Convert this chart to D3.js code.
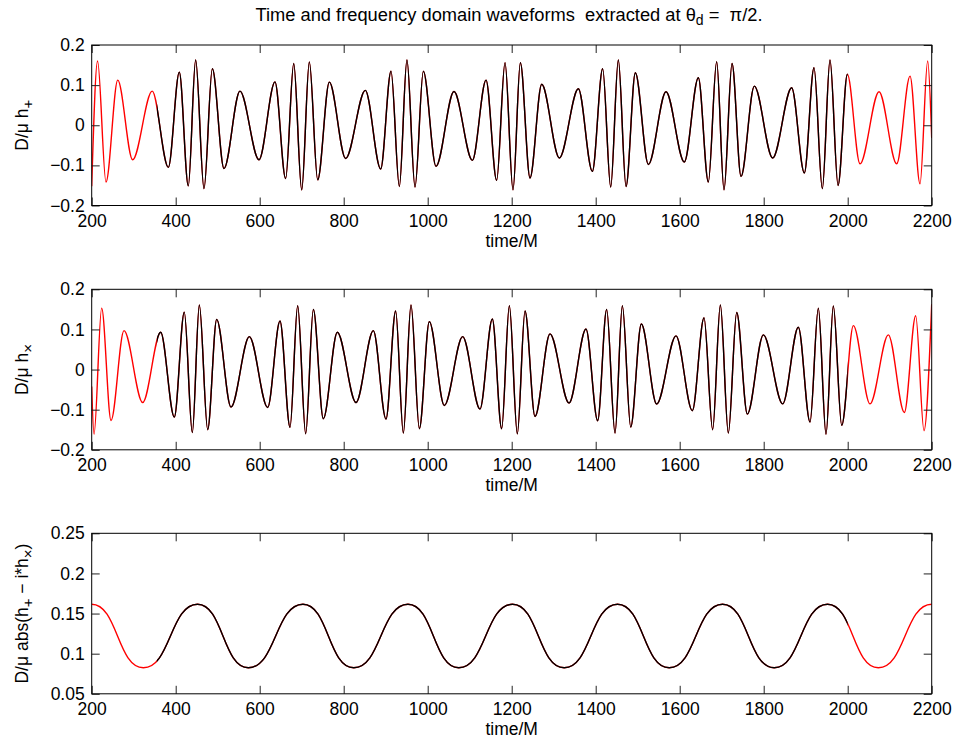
<!DOCTYPE html>
<html>
<head>
<meta charset="utf-8">
<script src="https://cdn.jsdelivr.net/npm/d3@7"></script>
<style>
  body { margin: 0; background: #fff; }
  svg text { font-family: "Liberation Sans", Arial, sans-serif; fill: #000; }
</style>
</head>
<body>
<script>
// x axis shared by the three panels
var xTicks = [200, 400, 600, 800, 1000, 1200, 1400, 1600, 1800, 2000, 2200];
var blackRange = [355, 2000];   // part of the run drawn in black over the red one

// h_plus: extrema
var plusTime = [200, 214, 234, 262, 297.5, 344, 382.5, 408.6, 430, 447.5, 467.4, 487.2, 515, 553, 598.3,
  636.4, 661.8, 681, 700, 718.2, 738, 765.8, 804.7, 851.5, 888, 912.7, 932.5, 950.6, 969.8, 989.6,
  1019.8, 1062.6, 1106.3, 1138.9, 1164.2, 1184.1, 1203.1, 1220.6, 1243.6, 1271.4, 1313.5, 1358.7,
  1392, 1416.6, 1435.7, 1453.9, 1472.2, 1494.4, 1525.4, 1567.4, 1611, 1644.4, 1668.2, 1688, 1705.5,
  1724.6, 1746, 1777.7, 1821.4, 1866.6, 1896.8, 1919.8, 1939.6, 1957.9, 1977, 1999.2, 2029.3,
  2074.6, 2116.7, 2148.4, 2172.2, 2190.4, 2200];
var plusValue = [-0.152, 0.16, -0.1415, 0.1125, -0.086, 0.085, -0.105, 0.1325, -0.151, 0.1625, -0.158,
  0.141, -0.108, 0.085, -0.086, 0.108, -0.133, 0.154, -0.161, 0.158, -0.136, 0.1075, -0.083, 0.087,
  -0.109, 0.135, -0.1525, 0.1625, -0.154, 0.135, -0.1025, 0.084, -0.0875, 0.1125, -0.1375, 0.156,
  -0.161, 0.156, -0.1315, 0.102, -0.0815, 0.091, -0.115, 0.141, -0.154, 0.1625, -0.1525, 0.131,
  -0.098, 0.0835, -0.0915, 0.1185, -0.1415, 0.1585, -0.161, 0.154, -0.1275, 0.0975, -0.0815, 0.0935,
  -0.119, 0.1435, -0.158, 0.1625, -0.15, 0.127, -0.096, 0.0835, -0.096, 0.1225, -0.146, 0.16, -0.0315];

// h_cross
var crossTime = [200, 205.5, 223.7, 246, 276.9, 321.4, 364.2, 396.7, 420.5, 439.6, 456.3, 476.1, 497.6,
  531.7, 575.3, 619, 648.3, 672.2, 690.4, 709.5, 727.7, 751.5, 784.8, 829.3, 870.6, 900.7, 923.7, 942,
  960.3, 980.1, 1003.9, 1039.6, 1083.3, 1124.5, 1153.9, 1176.1, 1194.4, 1213.4, 1231.7, 1255.5,
  1291.2, 1336.5, 1376.9, 1404.7, 1426.1, 1446, 1463.5, 1483.3, 1508.7, 1545.2, 1591.2, 1630.1,
  1657.9, 1678.5, 1696.8, 1715.8, 1735.7, 1761.1, 1799.2, 1845.2, 1882.5, 1910.3, 1930.1, 1948.4,
  1965.8, 1985.7, 2013.5, 2053.1, 2096.8, 2134.9, 2161.9, 2181.7, 2200];
var crossValue = [-0.042, -0.161, 0.153, -0.127, 0.097, -0.082, 0.093, -0.1185, 0.143, -0.157, 0.161,
  -0.15, 0.125, -0.0935, 0.082, -0.0945, 0.121, -0.144, 0.159, -0.16, 0.15, -0.1225, 0.093, -0.082,
  0.097, -0.1235, 0.146, -0.158, 0.161, -0.1475, 0.1195, -0.0895, 0.082, -0.0985, 0.126, -0.1475,
  0.159, -0.16, 0.146, -0.117, 0.089, -0.0835, 0.101, -0.1275, 0.15, -0.158, 0.159, -0.143, 0.1135,
  -0.086, 0.084, -0.1025, 0.129, -0.15, 0.161, -0.158, 0.142, -0.111, 0.0865, -0.0855, 0.1055,
  -0.131, 0.153, -0.161, 0.1585, -0.139, 0.1095, -0.0855, 0.0865, -0.107, 0.134, -0.1525, 0.163];

// abs(h_plus - i*h_cross): peaks and troughs
var absTime = [200, 323, 452, 573, 703, 824, 953, 1074, 1202, 1325, 1452, 1575, 1702, 1825, 1952,
  2073, 2200];
var absValue = [0.1616, 0.0825, 0.1616, 0.0825, 0.1616, 0.0825, 0.1616, 0.0825, 0.1616, 0.0825,
  0.1616, 0.0825, 0.1616, 0.0825, 0.1616, 0.0825, 0.1616];

var waveTicks = [-0.2, -0.1, 0, 0.1, 0.2];
var absTicks = [0.05, 0.1, 0.15, 0.2, 0.25];

var W = 956, H = 741;
var left = 91.7, plotW = 840, plotH = 160.5;

var svg = d3.select("body").append("svg")
    .attr("width", W)
    .attr("height", H);

var x = d3.scaleLinear().domain([200, 2200]).range([0, plotW]);

svg.append("text")
    .attr("x", 509)
    .attr("y", 21)
    .attr("text-anchor", "middle")
    .style("font-size", "18.3px")
    .style("white-space", "pre")
    .call(function(t) {
      t.append("tspan").text("Time and frequency domain waveforms  extracted at ");
      t.append("tspan").text("θ");
      t.append("tspan").attr("dy", 4).style("font-size", "14px").text("d");
      t.append("tspan").attr("dy", -4).text(" =  π/2.");
    });

var panels = [
  {top: 45,    times: plusTime,  values: plusValue,  dom: [-0.2, 0.2],  ticks: waveTicks,
   curve: d3.curveMonotoneX, label: [["D/μ h", 0], ["+", 1]]},
  {top: 289.3, times: crossTime, values: crossValue, dom: [-0.2, 0.2],  ticks: waveTicks,
   curve: d3.curveMonotoneX, label: [["D/μ h", 0], ["×", 1]]},
  // every point here is a turning point, so flat tangents at each one
  {top: 533.3, times: absTime,   values: absValue,   dom: [0.05, 0.25], ticks: absTicks,
   curve: d3.curveBumpX, label: [["D/μ abs(h", 0], ["+", 1], [" − i*h", 0], ["×", 1], [")", 0]]}
];

panels.forEach(function(p, k) {
  var y = d3.scaleLinear().domain(p.dom).range([plotH, 0]);
  var pts = p.times.map(function(t, i) { return [t, p.values[i]]; });

  var g = svg.append("g")
      .attr("transform", "translate(" + left + "," + p.top + ")");

  g.append("clipPath").attr("id", "clipRed" + k)
    .append("rect").attr("width", plotW).attr("height", plotH);
  g.append("clipPath").attr("id", "clipBlack" + k)
    .append("rect")
      .attr("x", x(blackRange[0]))
      .attr("width", x(blackRange[1]) - x(blackRange[0]))
      .attr("height", plotH);

  var line = d3.line()
      .x(function(d) { return x(d[0]); })
      .y(function(d) { return y(d[1]); })
      .curve(p.curve);

  g.append("path")
      .attr("d", line(pts))
      .attr("clip-path", "url(#clipRed" + k + ")")
      .attr("fill", "none")
      .attr("stroke", "#ff0000")
      .attr("stroke-width", 1.4);

  g.append("path")
      .attr("d", line(pts))
      .attr("clip-path", "url(#clipBlack" + k + ")")
      .attr("fill", "none")
      .attr("stroke", "#000")
      .attr("stroke-width", 1.4);

  // MATLAB style: ticks point inward on all four sides
  var fmt = d3.format("~g");
  g.append("g").attr("transform", "translate(0," + plotH + ")")
      .call(d3.axisBottom(x).tickValues(xTicks).tickFormat(fmt).tickSize(-8).tickSizeOuter(0).tickPadding(9));
  g.append("g")
      .call(d3.axisLeft(y).tickValues(p.ticks).tickFormat(fmt).tickSize(-8).tickSizeOuter(0).tickPadding(7));
  g.append("g")
      .call(d3.axisTop(x).tickValues(xTicks).tickFormat("").tickSize(-8).tickSizeOuter(0));
  g.append("g").attr("transform", "translate(" + plotW + ",0)")
      .call(d3.axisRight(y).tickValues(p.ticks).tickFormat("").tickSize(-8).tickSizeOuter(0));

  g.selectAll(".domain").remove();
  g.selectAll(".tick line").attr("stroke", "#222");
  g.selectAll(".tick text").style("font-size", "17.5px").attr("fill", "#000");

  g.append("rect")
      .attr("width", plotW)
      .attr("height", plotH)
      .attr("fill", "none")
      .attr("stroke", "#000")
      .attr("stroke-width", 1);

  g.append("text")
      .attr("x", plotW / 2)
      .attr("y", plotH + 41)
      .attr("text-anchor", "middle")
      .style("font-size", "17.5px")
      .text("time/M");

  var lab = g.append("text")
      .attr("transform", "translate(" + (28 - left) + "," + (plotH / 2) + ") rotate(-90)")
      .attr("text-anchor", "middle")
      .style("font-size", "17.5px")
      .style("white-space", "pre");
  var shift = 0;
  p.label.forEach(function(part) {
    var dy = part[1] ? 5 : 0;
    lab.append("tspan")
        .attr("dy", dy - shift)
        .style("font-size", part[1] ? "15px" : "17.5px")
        .text(part[0]);
    shift = dy;
  });
});
</script>
</body>
</html>
